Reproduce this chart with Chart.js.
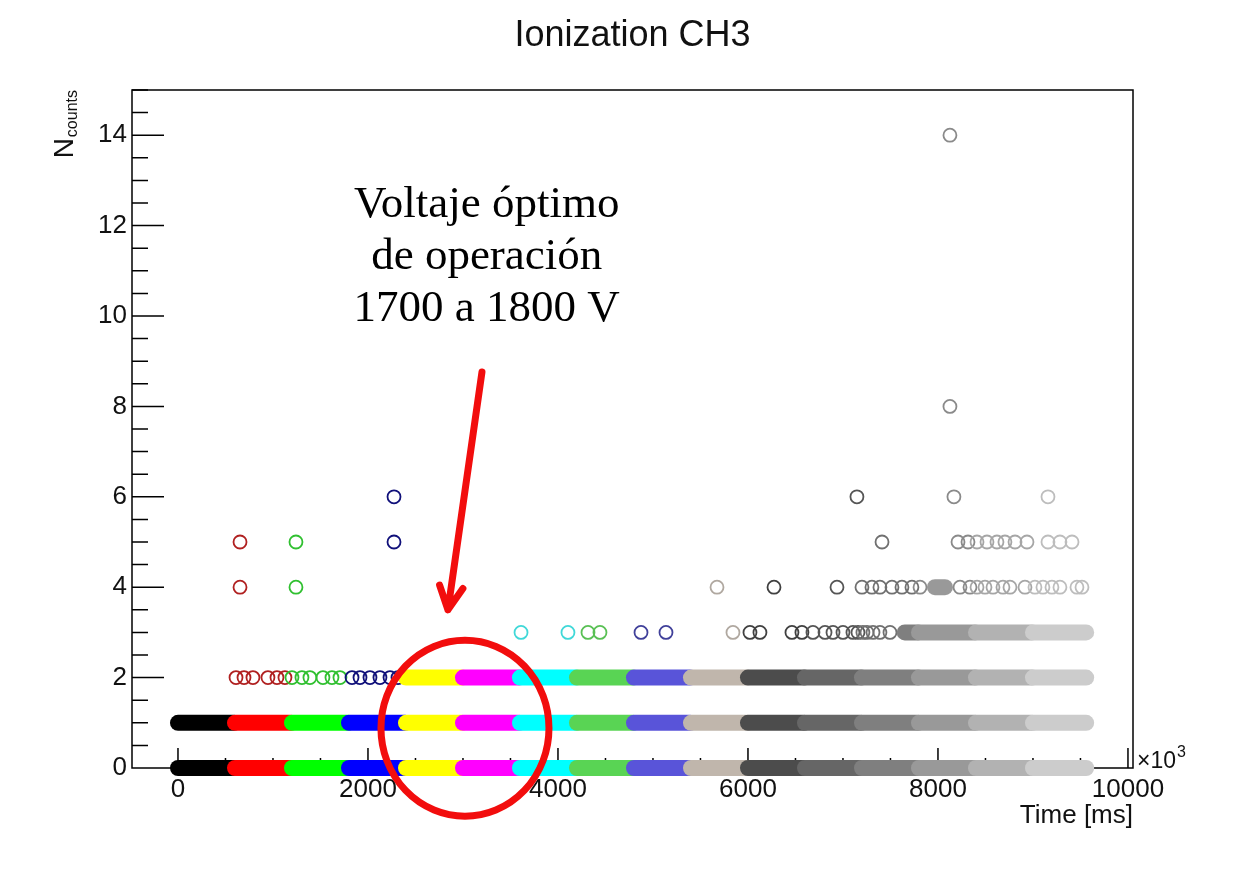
<!DOCTYPE html>
<html>
<head>
<meta charset="utf-8">
<title>Ionization CH3</title>
<script src="https://cdn.jsdelivr.net/npm/chart.js@4.4.1/dist/chart.umd.min.js"></script>
<style>
  html, body { margin: 0; padding: 0; background: #fff; }
  canvas { display: block; }
</style>
</head>
<body>
<canvas id="ionChart" width="1241" height="879"></canvas>
<script>
// ---------------- data ----------------
// one run per high-voltage step, times in ms (axis labelled x10^3)
const groupStart = [0, 600, 1200, 1800, 2400, 3000, 3600, 4200, 4800, 5400, 6000, 6600, 7200, 7800, 8400, 9000];
const groupEnd   = [590, 1190, 1790, 2390, 2990, 3590, 4190, 4790, 5390, 5990, 6590, 7190, 7790, 8390, 8990, 9560];

// N counts rows that are read continuously during the whole run
const solidRows = [
  [0, 1], [0, 1], [0, 1], [0, 1],
  [0, 1, 2], [0, 1, 2], [0, 1, 2], [0, 1, 2], [0, 1, 2],
  [0, 1, 2], [0, 1, 2], [0, 1, 2], [0, 1, 2],
  [0, 1, 2, 3], [0, 1, 2, 3], [0, 1, 2, 3]
];

// shorter continuous stretches
const stretchFrom  = [7650, 7968];
const stretchTo    = [7790, 8074];
const stretchCount = [3, 4];

// isolated readings, one list per N counts row
const isoRows = [2, 3, 4, 5, 6, 8, 14];
const isoTimes = [
  [611, 695, 789, 947, 1042, 1126, 1200, 1305, 1389, 1526, 1621, 1705, 1832, 1916, 2021, 2126, 2232, 2316],
  [3611, 4105, 4316, 4442, 4874, 5137, 5842, 6021, 6126, 6463, 6568, 6684, 6811, 6895, 7000, 7105, 7158, 7210, 7253, 7316, 7389, 7495],
  [653, 1242, 5674, 6274, 6937, 7200, 7305, 7389, 7516, 7621, 7726, 7811, 8232, 8337, 8411, 8495, 8579, 8684, 8758, 8916, 9021, 9105, 9200, 9284, 9463, 9516],
  [653, 1242, 2274, 7411, 8211, 8316, 8411, 8516, 8621, 8705, 8811, 8937, 9158, 9284, 9411],
  [2274, 7147, 8168, 9158],
  [8126],
  [8126]
];

const xTickValues = [0, 2000, 4000, 6000, 8000, 10000];
const yTickValues = [0, 2, 4, 6, 8, 10, 12, 14];

// note on the plot (data units)
const noteLines = ['Voltaje óptimo', 'de operación', '1700 a 1800 V'];
const noteAt = [3250, 12.45];
const arrowFrom = [3200, 8.76];
const arrowTo = [2842, 3.5];
const ringAt = [3021, 0.88];

// ---------------- styles ----------------
const groupColors = ['#000000', '#ff0000', '#00ff00', '#0000ff', '#ffff00', '#ff00ff', '#00ffff', '#59d454',
  '#5954d9', '#c0b6ac', '#4c4c4c', '#666666', '#7f7f7f', '#999999', '#b2b2b2', '#cccccc'];
// hollow markers come out a little darker than the solid runs
const ringColors = ['#000000', '#b02020', '#30c030', '#10107a', '#d0d000', '#c000c0', '#40d8d8', '#59c054',
  '#40409a', '#b0a8a0', '#404040', '#555555', '#707070', '#8a8a8a', '#a6a6a6', '#bdbdbd'];
const SANS = '"Liberation Sans", Arial, sans-serif';
const SERIF = '"Liberation Serif", "DejaVu Serif", serif';

function groupOf(t) {
  let g = 0;
  for (let i = 0; i < groupStart.length; i++) if (t >= groupStart[i]) g = i;
  return g;
}

// ---------------- datasets ----------------
const datasets = [];
groupStart.forEach((start, g) => {
  const pts = [];
  isoRows.forEach((row, r) => {
    isoTimes[r].forEach(t => { if (groupOf(t) === g) pts.push({ x: t, y: row }); });
  });
  const bands = solidRows[g].map(row => [start, groupEnd[g], row]);
  stretchFrom.forEach((f, k) => { if (groupOf(f) === g) bands.push([f, stretchTo[k], stretchCount[k]]); });

  bands.forEach(b => {
    datasets.push({
      data: [{ x: b[0], y: b[2] }, { x: b[1], y: b[2] }],
      showLine: true,
      borderColor: groupColors[g],
      borderWidth: 16,
      borderCapStyle: 'round',
      pointRadius: 0,
      clip: false,
      order: 100 - g
    });
  });
  if (pts.length) {
    datasets.push({
      data: pts,
      showLine: false,
      pointStyle: 'circle',
      pointRadius: 6.5,
      pointBorderWidth: 1.8,
      pointBorderColor: ringColors[g],
      pointBackgroundColor: 'rgba(0,0,0,0)',
      clip: false,
      order: 100 - g
    });
  }
});

// ---------------- frame, ticks, extra texts ----------------
const rootStyle = {
  id: 'rootStyle',
  beforeDatasetsDraw(chart) {
    const { ctx, chartArea: a, scales: { x, y } } = chart;
    ctx.save();
    ctx.strokeStyle = '#000';
    ctx.lineWidth = 1.5;
    ctx.strokeRect(a.left, a.top, a.right - a.left, a.bottom - a.top);
    ctx.beginPath();
    for (let v = 0.5; v <= 15; v += 0.5) {
      const py = y.getPixelForValue(v);
      const len = v % 2 === 0 ? 32 : 16;
      ctx.moveTo(a.left, py); ctx.lineTo(a.left + len, py);
    }
    for (let v = 0; v <= 10000; v += 500) {
      const px = x.getPixelForValue(v);
      const len = v % 2000 === 0 ? 20 : 10;
      ctx.moveTo(px, a.bottom); ctx.lineTo(px, a.bottom - len);
    }
    ctx.stroke();
    ctx.restore();
  },
  afterDraw(chart) {
    const { ctx, chartArea: a, scales: { x, y } } = chart;
    ctx.save();
    ctx.fillStyle = '#111';

    // y title: N with subscript "counts"
    ctx.save();
    ctx.translate(73, a.top);
    ctx.rotate(-Math.PI / 2);
    ctx.textAlign = 'right';
    ctx.textBaseline = 'alphabetic';
    ctx.font = '16px ' + SANS;
    const subW = ctx.measureText('counts').width;
    ctx.fillText('counts', 0, 4);
    ctx.font = '28px ' + SANS;
    ctx.fillText('N', -subW - 1, 0);
    ctx.restore();

    // x10^3 on the x axis
    ctx.textAlign = 'left';
    ctx.textBaseline = 'alphabetic';
    ctx.font = '23px ' + SANS;
    ctx.fillText('\u00d710', a.right + 4, a.bottom);
    const w10 = ctx.measureText('\u00d710').width;
    ctx.font = '16px ' + SANS;
    ctx.fillText('3', a.right + 4 + w10 + 1, a.bottom - 11);

    // note
    ctx.fillStyle = '#000';
    ctx.textAlign = 'center';
    ctx.textBaseline = 'middle';
    ctx.font = '45px ' + SERIF;
    const nx = x.getPixelForValue(noteAt[0]);
    const ny = y.getPixelForValue(noteAt[1]);
    noteLines.forEach((line, i) => ctx.fillText(line, nx, ny + i * 52));

    // arrow and ring
    ctx.strokeStyle = '#f20d0d';
    ctx.lineCap = 'round';
    ctx.lineJoin = 'round';
    ctx.lineWidth = 7;
    const x0 = x.getPixelForValue(arrowFrom[0]), y0 = y.getPixelForValue(arrowFrom[1]);
    const x1 = x.getPixelForValue(arrowTo[0]), y1 = y.getPixelForValue(arrowTo[1]);
    const ang = Math.atan2(y0 - y1, x0 - x1);
    ctx.beginPath();
    ctx.moveTo(x0, y0); ctx.lineTo(x1, y1);
    ctx.moveTo(x1 + 26 * Math.cos(ang - 0.47), y1 + 26 * Math.sin(ang - 0.47));
    ctx.lineTo(x1, y1);
    ctx.lineTo(x1 + 26 * Math.cos(ang + 0.47), y1 + 26 * Math.sin(ang + 0.47));
    ctx.stroke();

    ctx.beginPath();
    ctx.ellipse(x.getPixelForValue(ringAt[0]), y.getPixelForValue(ringAt[1]), 84, 88, 0, 0, Math.PI * 2);
    ctx.stroke();
    ctx.restore();
  }
};

// ---------------- chart ----------------
new Chart(document.getElementById('ionChart'), {
  type: 'scatter',
  data: { datasets },
  plugins: [rootStyle],
  options: {
    responsive: false,
    animation: false,
    events: [],
    layout: { padding: { left: 24, right: 0, top: 0, bottom: 0 } },
    plugins: {
      legend: { display: false },
      tooltip: { enabled: false },
      title: {
        display: true,
        text: 'Ionization CH3',
        color: '#111',
        font: { family: SANS, size: 36, weight: 'normal', lineHeight: 1.2 },
        padding: { top: 14, bottom: 32.8 }
      }
    },
    scales: {
      x: {
        type: 'linear',
        min: -484,
        max: 10053,
        afterBuildTicks: s => { s.ticks = xTickValues.map(v => ({ value: v })); },
        afterFit: s => { s.height = 111; },
        grid: { display: false, drawTicks: false },
        border: { display: false },
        ticks: {
          padding: 6,
          color: '#111',
          font: { family: SANS, size: 26 },
          maxRotation: 0,
          callback: v => String(v)
        },
        title: {
          display: true,
          text: 'Time [ms]',
          align: 'end',
          color: '#111',
          font: { family: SANS, size: 26, lineHeight: 1.2 },
          padding: { top: 0, bottom: 48 }
        }
      },
      y: {
        type: 'linear',
        min: 0,
        max: 15,
        afterBuildTicks: s => { s.ticks = yTickValues.map(v => ({ value: v })); },
        afterFit: s => { s.width = 108; },
        grid: { display: false, drawTicks: false },
        border: { display: false },
        ticks: {
          padding: 5,
          color: '#111',
          font: { family: SANS, size: 26 },
          callback: v => String(v)
        }
      },
      y2: {
        type: 'linear',
        position: 'right',
        min: 0,
        max: 1,
        afterFit: s => { s.width = 108; },
        grid: { display: false, drawTicks: false },
        border: { display: false },
        ticks: { display: false }
      }
    }
  }
});
</script>
</body>
</html>
